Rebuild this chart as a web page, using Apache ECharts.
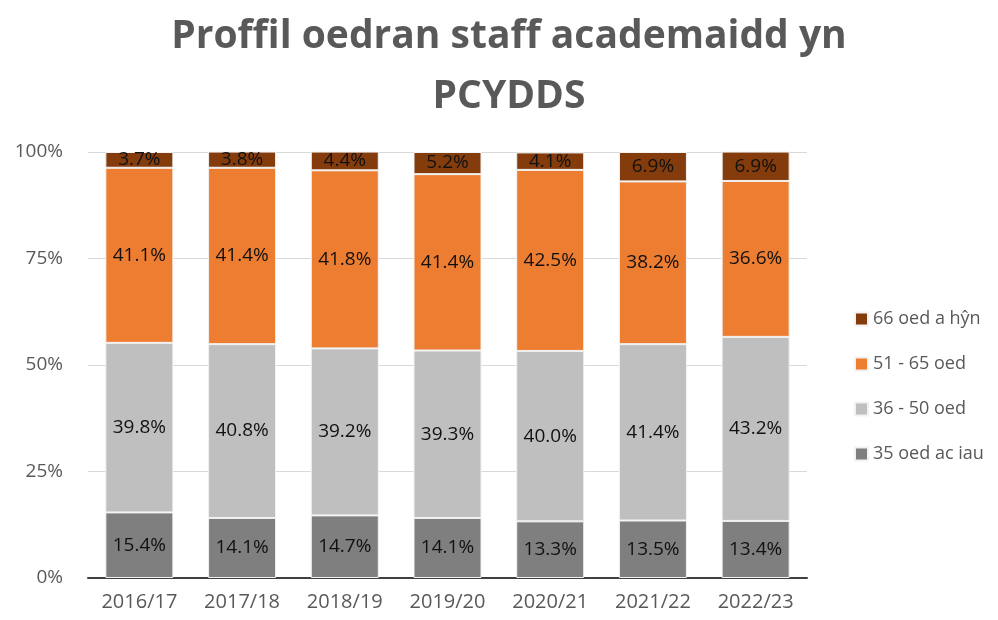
<!DOCTYPE html>
<html>
<head>
<meta charset="utf-8">
<script src="https://cdn.jsdelivr.net/npm/echarts@6/dist/echarts.min.js"></script>
<style>
  html, body { margin: 0; padding: 0; background: #fff; }
  #chart { width: 998px; height: 620px; }
</style>
</head>
<body>
<div id="chart"></div>
<script>
const years = ["2016/17", "2017/18", "2018/19", "2019/20", "2020/21", "2021/22", "2022/23"]
const iau35 = [15.4, 14.1, 14.7, 14.1, 13.3, 13.5, 13.4]
const oed36to50 = [39.8, 40.8, 39.2, 39.3, 40.0, 41.4, 43.2]
const oed51to65 = [41.1, 41.4, 41.8, 41.4, 42.5, 38.2, 36.6]
const hyn66 = [3.7, 3.8, 4.4, 5.2, 4.1, 6.9, 6.9]
const yTicks = [0, 25, 50, 75, 100]

const chart = echarts.init(document.getElementById("chart"))

function bar(name, data, color) {
  return {
    name: name,
    type: "bar",
    stack: "total",
    barWidth: 68,
    data: data,
    itemStyle: { color: color, borderColor: "#f2f2f2", borderWidth: 1 },
    label: {
      show: true,
      position: "inside",
      color: "#111",
      fontFamily: "Open Sans",
      fontSize: 19,
      formatter: p => p.value.toFixed(1) + "%"
    }
  }
}

chart.setOption({
  animation: false,
  title: {
    text: "Proffil oedran staff academaidd yn\nPCYDDS",
    left: 504,
    top: 2,
    textAlign: "center",
    textStyle: {
      color: "#595959",
      fontFamily: "Open Sans",
      fontWeight: "bold",
      fontSize: 39,
      lineHeight: 60
    }
  },
  legend: {
    orient: "vertical",
    left: 849,
    top: 304,
    itemGap: 25,
    itemWidth: 13,
    itemHeight: 13,
    icon: "rect",
    data: ["66 oed a hŷn", "51 - 65 oed", "36 - 50 oed", "35 oed ac iau"],
    textStyle: { color: "#595959", fontFamily: "Open Sans", fontSize: 18, lineHeight: 20 }
  },
  grid: { left: 88, right: 191, top: 152, bottom: 42 },
  xAxis: {
    type: "category",
    data: years,
    axisTick: { show: false },
    axisLine: { lineStyle: { color: "#404040", width: 2 } },
    axisLabel: { color: "#595959", fontFamily: "Open Sans", fontSize: 20, margin: 14 }
  },
  yAxis: {
    type: "value",
    min: yTicks[0],
    max: yTicks[yTicks.length - 1],
    interval: 25,
    axisLabel: { color: "#595959", fontFamily: "Open Sans", fontSize: 19, margin: 25, formatter: "{value}%" },
    splitLine: { lineStyle: { color: "#d9d9d9" } }
  },
  series: [
    bar("35 oed ac iau", iau35, "#7f7f7f"),
    bar("36 - 50 oed", oed36to50, "#bfbfbf"),
    bar("51 - 65 oed", oed51to65, "#ed7d31"),
    bar("66 oed a hŷn", hyn66, "#843c0c")
  ]
})
</script>
</body>
</html>
